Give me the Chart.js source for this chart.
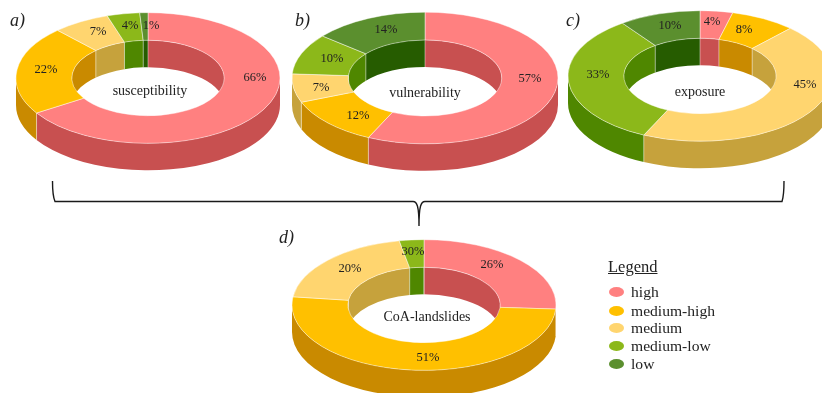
<!DOCTYPE html>
<html>
<head>
<meta charset="utf-8">
<title>CoA-landslides</title>
<script src="https://cdn.jsdelivr.net/npm/chart.js@4/dist/chart.umd.min.js"></script>
<style>
    html, body { margin: 0; padding: 0; background: #fff; overflow: hidden; }
    #page { position: relative; width: 822px; height: 393px; overflow: hidden; font-family: "Liberation Serif", serif; color: #222; }
    #page canvas { position: absolute; }
    #page svg { position: absolute; left: 0; top: 0; z-index: 2; }
    .tag { position: absolute; z-index: 2; font-style: italic; font-size: 18px; line-height: 20px; }
    #legendTitle { position: absolute; z-index: 2; left: 608px; top: 257px; font-size: 16.5px; line-height: 20px; text-decoration: underline; }
    .legendRow { position: absolute; z-index: 2; left: 609px; height: 18px; font-size: 15.6px; line-height: 18px; padding-left: 22px; white-space: nowrap; }
    .legendRow i { position: absolute; left: 0; top: 4px; width: 15px; height: 10px; border-radius: 50%; }
</style>
</head>
<body>
<div id="page">
    <svg width="822" height="393">
        <path d="M52.5 181 C52.5 190 53 197 55 201.5 L413 201.5 C417 201.5 419 206 419 226 C419 206 421 201.5 425 201.5 L782 201.5 C783.5 197 784 190 784 181" fill="none" stroke="#1a1a1a" stroke-width="1.4"/>
    </svg>
    <div class="tag" style="left:10px;top:10px">a)</div>
    <div class="tag" style="left:295px;top:10px">b)</div>
    <div class="tag" style="left:566px;top:10px">c)</div>
    <div class="tag" style="left:279px;top:227px">d)</div>
    <div id="legendTitle">Legend</div>
</div>

<script>
const levels = ['high', 'medium-high', 'medium', 'medium-low', 'low'];

const susceptibilityValues = [66, 22, 7, 4, 1];
const vulnerabilityValues = [57, 12, 7, 10, 14];
const exposureValues = [4, 8, 45, 33, 10];
const coaValues = [26, 51, 20, 3, 0];

const susceptibilityLabels = ['66%', '22%', '7%', '4%', '1%'];
const vulnerabilityLabels = ['57%', '12%', '7%', '10%', '14%'];
const exposureLabels = ['4%', '8%', '45%', '33%', '10%'];
// the 3% and the 0% sit on top of each other in the original and read as 30%
const coaLabels = ['26%', '51%', '20%', '30%', ''];

const topColors = ['#FF8080', '#FFC000', '#FFD56F', '#8CB81A', '#5B8F2E'];
const wallColors = ['#C85050', '#C98A00', '#C6A23C', '#4F8700', '#265C00'];

const squash = 0.495;  // ring is a flat circle squashed to an ellipse
const depth = 27;      // height of the side wall in px

// one piece of side wall under an arc, between two angles
function fillBand(ctx, cx, cy, r, from, to) {
    if (to <= from) return;
    ctx.beginPath();
    ctx.ellipse(cx, cy, r, r * squash, 0, from, to);
    ctx.ellipse(cx, cy + depth, r, r * squash, 0, to, from, true);
    ctx.closePath();
    ctx.fill();
}

// draws the side walls from the arc elements, then squashes the top face
const ring3d = {
    id: 'ring3d',
    beforeDatasetsDraw(chart) {
        const ctx = chart.ctx;
        const cx = chart.width / 2;
        const cy = chart.height / 2;
        const arcs = chart.getDatasetMeta(0).data;

        ctx.save();
        arcs.forEach(function(arc, i) {
            const a1 = arc.startAngle;
            const a2 = arc.endAngle;
            ctx.fillStyle = wallColors[i];
            // back half shows the inside wall, front half the outside wall
            fillBand(ctx, cx, cy, arc.innerRadius, a1, Math.min(a2, 0));
            fillBand(ctx, cx, cy, arc.innerRadius, Math.max(a1, Math.PI), a2);
            fillBand(ctx, cx, cy, arc.outerRadius, Math.max(a1, 0), Math.min(a2, Math.PI));
        });

        // thin light seams where two wall colours meet
        ctx.strokeStyle = 'rgba(255,255,255,0.55)';
        ctx.lineWidth = 0.8;
        arcs.forEach(function(arc) {
            const a = arc.startAngle;
            const r = Math.sin(a) > 0 ? arc.outerRadius : arc.innerRadius;
            const x = cx + r * Math.cos(a);
            const y = cy + r * Math.sin(a) * squash;
            ctx.beginPath();
            ctx.moveTo(x, y);
            ctx.lineTo(x, y + depth);
            ctx.stroke();
        });
        ctx.restore();

        ctx.save();
        ctx.translate(cx, cy);
        ctx.scale(1, squash);
        ctx.translate(-cx, -cy);
    },
    afterDatasetsDraw(chart, args, opts) {
        chart.ctx.restore();

        const ctx = chart.ctx;
        ctx.save();
        ctx.fillStyle = '#222';
        ctx.textAlign = 'center';
        ctx.textBaseline = 'middle';
        ctx.font = '12.5px "Liberation Serif"';
        opts.labels.forEach(function(text, i) {
            ctx.fillText(text, opts.labelPos[i][0] - opts.left, opts.labelPos[i][1] - opts.top);
        });
        ctx.font = '14px "Liberation Serif"';
        ctx.fillText(opts.title, opts.titlePos[0] - opts.left, opts.titlePos[1] - opts.top);
        ctx.restore();
    }
};

function addRing(values, labels, title, cx, cy, rx, labelPos, titlePos) {
    const canvas = document.createElement('canvas');
    const left = cx - rx - 2;
    const top = cy - rx - 2;
    canvas.width = 2 * rx + 4;
    canvas.height = 2 * rx + 4;
    canvas.style.left = left + 'px';
    canvas.style.top = top + 'px';
    document.getElementById('page').appendChild(canvas);

    new Chart(canvas.getContext('2d'), {
        type: 'doughnut',
        data: {
            labels: levels,
            datasets: [{
                data: values,
                backgroundColor: topColors,
                borderColor: 'rgba(255,255,255,0.6)',
                borderWidth: 1
            }]
        },
        options: {
            responsive: false,
            animation: false,
            radius: rx,
            cutout: '57.7%',
            layout: { padding: 0 },
            plugins: {
                legend: { display: false },
                tooltip: { enabled: false },
                ring3d: { labels: labels, labelPos: labelPos, title: title, titlePos: titlePos, left: left, top: top }
            }
        },
        plugins: [ring3d]
    });
}

addRing(susceptibilityValues, susceptibilityLabels, 'susceptibility', 148, 78, 132,
    [[255, 78], [46, 70], [98, 32], [130, 26], [151, 26]], [150, 91]);
addRing(vulnerabilityValues, vulnerabilityLabels, 'vulnerability', 425, 78, 133,
    [[530, 79], [358, 116], [321, 88], [332, 59], [386, 30]], [425, 93]);
addRing(exposureValues, exposureLabels, 'exposure', 700, 76, 132,
    [[712, 22], [744, 30], [805, 85], [598, 75], [670, 26]], [700, 92]);
addRing(coaValues, coaLabels, 'CoA-landslides', 424, 305, 132,
    [[492, 265], [428, 358], [350, 269], [413, 252], [0, 0]], [427, 317]);

const legendTops = [283, 302, 319, 337, 355];
levels.forEach(function(name, i) {
    const row = document.createElement('div');
    row.className = 'legendRow';
    row.style.top = legendTops[i] + 'px';
    row.innerHTML = '<i style="background:' + topColors[i] + '"></i>' + name;
    document.getElementById('page').appendChild(row);
});
</script>
</body>
</html>
